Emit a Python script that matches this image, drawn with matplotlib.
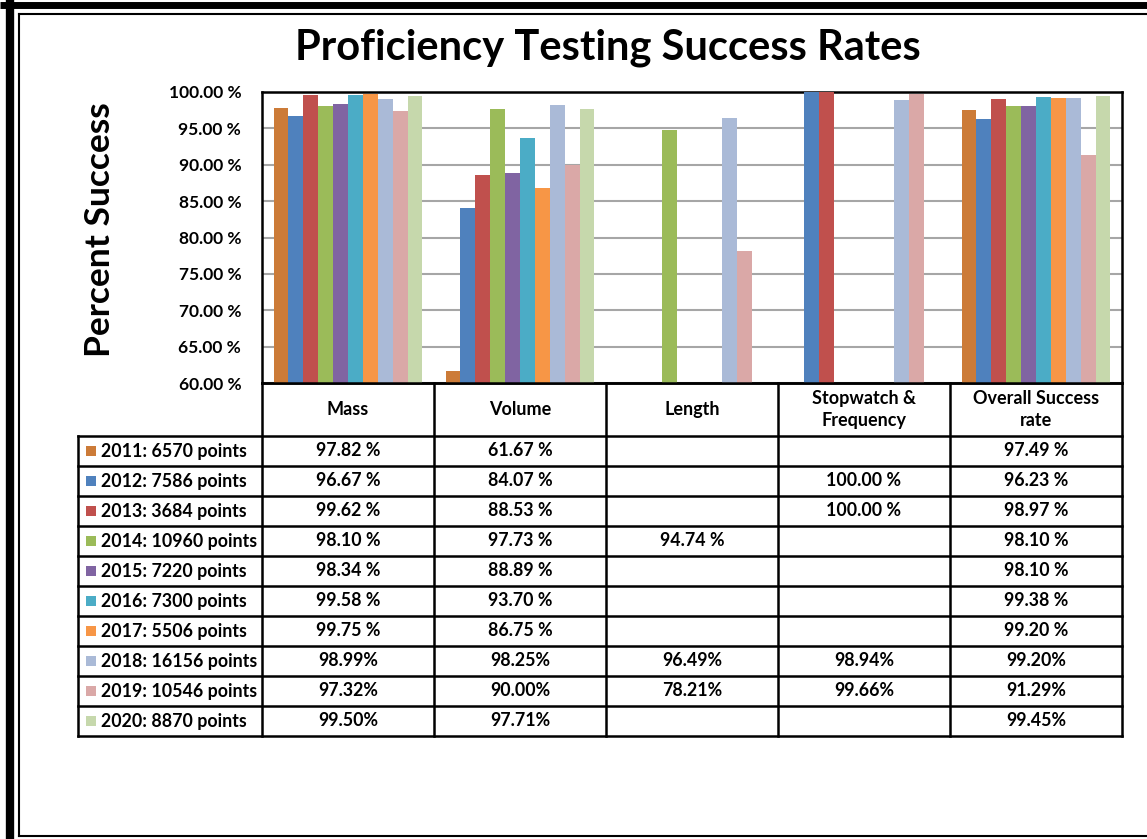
import numpy as np
import matplotlib
matplotlib.use("Agg")
import matplotlib.pyplot as plt

nan = np.nan
years = [2011, 2012, 2013, 2014, 2015, 2016, 2017, 2018, 2019, 2020]
points = [6570, 7586, 3684, 10960, 7220, 7300, 5506, 16156, 10546, 8870]
categories = ["Mass", "Volume", "Length", "Stopwatch &\nFrequency", "Overall Success\nrate"]
mass = [97.82, 96.67, 99.62, 98.10, 98.34, 99.58, 99.75, 98.99, 97.32, 99.50]
volume = [61.67, 84.07, 88.53, 97.73, 88.89, 93.70, 86.75, 98.25, 90.00, 97.71]
length = [nan, nan, nan, 94.74, nan, nan, nan, 96.49, 78.21, nan]
stopwatch = [nan, 100.00, 100.00, nan, nan, nan, nan, 98.94, 99.66, nan]
overall = [97.49, 96.23, 98.97, 98.10, 98.10, 99.38, 99.20, 99.20, 91.29, 99.45]
pct_space = [" ", " ", " ", " ", " ", " ", " ", "", "", ""]
colors = ["#CC7B38", "#4F81BD", "#C0504D", "#9BBB59", "#8064A2",
          "#4BACC6", "#F79646", "#AABAD7", "#DAA8A7", "#C6D8AC"]
yticks = [60, 65, 70, 75, 80, 85, 90, 95, 100]

FONT = "Lato"
W, H = 1147, 839
fig = plt.figure(figsize=(W / 100, H / 100), dpi=100)

# plot area in pixel coords
L, R, T, B = 262, 1122, 92, 383
ax = fig.add_axes([L / W, 1 - B / H, (R - L) / W, (B - T) / H])
series = np.array([mass, volume, length, stopwatch, overall]).T  # years x cats
x = np.arange(len(categories))
bw = 0.0866
for i, yr in enumerate(years):
    ax.bar(x + (i - 4.5) * bw, series[i], width=bw, color=colors[i],
           edgecolor="none", zorder=3)
ax.set_xlim(-0.5, len(categories) - 0.5)
ax.set_ylim(60, 100)
ax.set_yticks(yticks)
ax.set_yticklabels([f"{v:.2f} %" for v in yticks], fontfamily=FONT,
                   fontweight="bold", fontsize=12.5)
ax.tick_params(axis="y", length=0, pad=15)
ax.set_xticks([])
ax.grid(axis="y", color="#A6A6A6", linewidth=1.5, zorder=0)
for s in ax.spines.values():
    s.set_linewidth(1.8)
    s.set_color("black")

# overlay for frame and table
ov = fig.add_axes([0, 0, 1, 1], zorder=5)
ov.set_xlim(0, W)
ov.set_ylim(H, 0)
ov.axis("off")
ov.patch.set_alpha(0)

# outer frame
ov.plot([10, 10], [0, H], color="black", lw=6, solid_capstyle="butt")
ov.plot([0, W], [4.5, 4.5], color="black", lw=5, solid_capstyle="butt")
ov.plot([19, 19], [14, 836], color="black", lw=1.5)
ov.plot([19, W], [14, 14], color="black", lw=1.5)
ov.plot([19, W], [836, 836], color="black", lw=1.5)

fig.text(608 / W, 1 - 48 / H, "Proficiency Testing Success Rates",
         ha="center", va="center", fontsize=30, fontweight="bold", family=FONT)
fig.text(100 / W, 1 - 230 / H, "Percent Success", rotation=90,
         ha="center", va="center", fontsize=25.5, fontweight="bold", family=FONT)

# table
col_edges = [L + (R - L) * k / len(categories) for k in range(len(categories) + 1)]
TL = 78
hdr_top, hdr_bot = B, 436
row_h = 30
nrows = len(years)
tbl_bot = hdr_bot + row_h * nrows
lw = 1.8
for xe in col_edges:
    ov.plot([xe, xe], [hdr_top, tbl_bot], color="black", lw=lw)
ov.plot([TL, TL], [hdr_bot, tbl_bot], color="black", lw=lw)
ov.plot([L, R], [hdr_top, hdr_top], color="black", lw=lw)
for r in range(nrows + 1):
    yy = hdr_bot + r * row_h
    ov.plot([TL, R], [yy, yy], color="black", lw=lw)

for k, c in enumerate(categories):
    ov.text((col_edges[k] + col_edges[k + 1]) / 2, (hdr_top + hdr_bot) / 2, c,
            ha="center", va="center", fontsize=13, fontweight="bold",
            family=FONT, linespacing=1.42)

for i, yr in enumerate(years):
    yc = hdr_bot + row_h * i + row_h / 2
    ov.add_patch(plt.Rectangle((86, yc - 5), 10, 10, color=colors[i], lw=0))
    ov.text(101, yc, f"{yr}: {points[i]} points", ha="left", va="center",
            fontsize=12.8, fontweight="bold", family=FONT)
    for k in range(len(categories)):
        v = series[i, k]
        if np.isnan(v):
            continue
        ov.text((col_edges[k] + col_edges[k + 1]) / 2, yc, f"{v:.2f}{pct_space[i]}%",
                ha="center", va="center", fontsize=12.8, fontweight="bold",
                family=FONT)

fig.savefig("out.png", dpi=100)
